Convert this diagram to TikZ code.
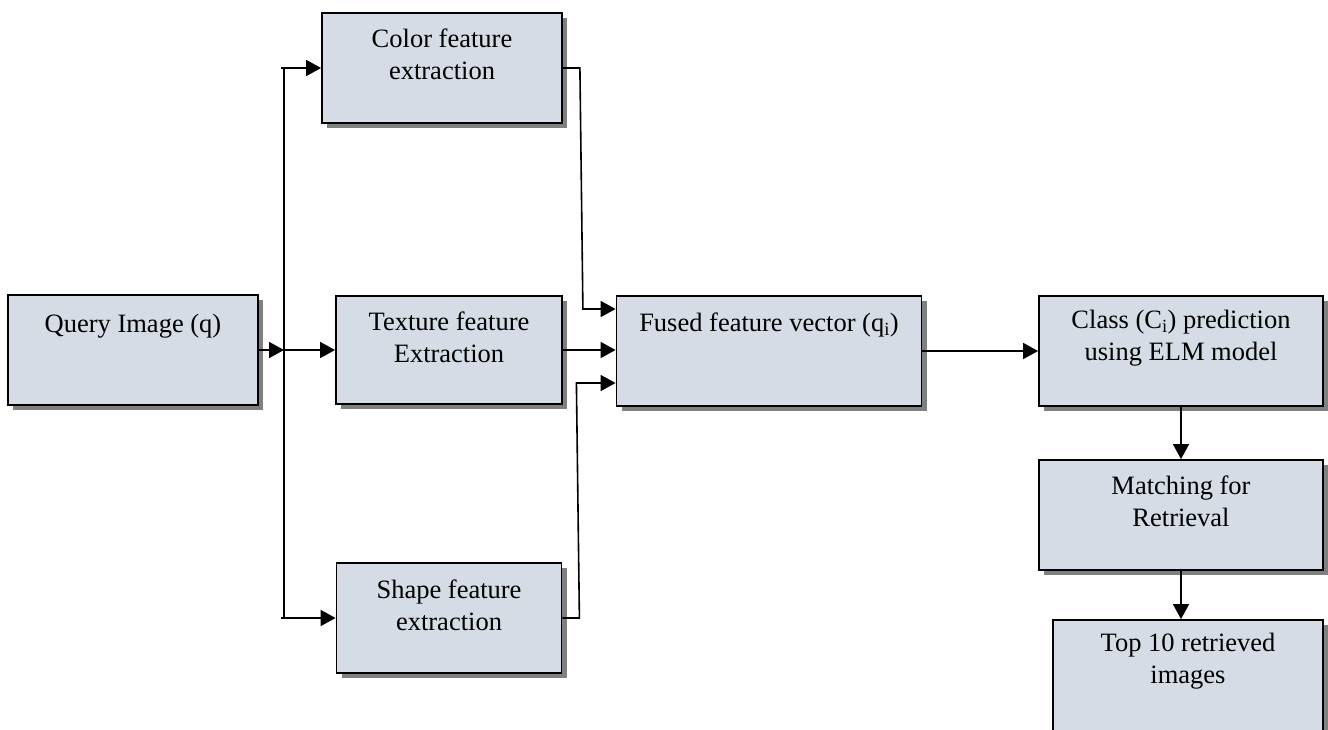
\documentclass[tikz,border=0pt]{standalone}
\usepackage{fontspec}
\setmainfont{Liberation Serif}
\usetikzlibrary{arrows.meta,shadows}
\definecolor{boxfill}{RGB}{214,220,229}
\tikzset{
  block/.style={draw, line width=1.8pt, fill=boxfill, inner sep=0pt,
    drop shadow={shadow xshift=5pt, shadow yshift=-5pt, fill=black!50, opacity=1}},
  lbl/.style={align=center, font=\fontsize{26.5}{32}\selectfont, inner sep=0pt},
  arr/.style={line width=1.6pt, -{Triangle[length=15pt,width=16pt]}},
  wire/.style={line width=1.5pt}
}

\begin{document}
\begin{tikzpicture}[x=1pt,y=-1pt]
  \useasboundingbox (0,0) rectangle (1328,729);
  \clip (0,0) rectangle (1328,729);
  % boxes
  \node[block, minimum width=250pt, minimum height=110pt] (query) at (133,350) {};
  \node[block, minimum width=240pt, minimum height=110pt] (color) at (442,68) {};
  \node[block, minimum width=226pt, minimum height=108pt] (texture) at (449,350) {};
  \node[block, minimum width=225pt, minimum height=110pt] (shape) at (449,618) {};
  \node[block, minimum width=305pt, minimum height=110pt] (fused) at (769,351) {};
  \node[block, minimum width=284pt, minimum height=110pt] (class) at (1181,351) {};
  \node[block, minimum width=284pt, minimum height=110pt] (match) at (1181,515) {};
  \node[block, minimum width=270pt, minimum height=130pt] (top) at (1188,685) {};
  % texts
  \node[lbl] (querytext) at ([yshift=-32pt]query.north) {Query Image (q)};
  \node[lbl] (colortext) at ([yshift=-42pt]color.north) {Color feature\\extraction};
  \node[lbl] (texturetext) at ([yshift=-42pt]texture.north) {Texture feature\\Extraction};
  \node[lbl] (shapetext) at ([yshift=-43pt]shape.north) {Shape feature\\extraction};
  \node[lbl] (fusedtext) at ([yshift=-30pt]fused.north) {Fused feature vector (q\textsubscript{i})};
  \node[lbl] (classtext) at ([yshift=-43pt]class.north) {Class (C\textsubscript{i}) prediction\\using ELM model};
  \node[lbl] (matchtext) at ([yshift=-42pt]match.north) {Matching for\\Retrieval};
  \node[lbl] (toptext) at ([yshift=-42pt]top.north) {Top 10 retrieved\\images};
  % connectors
  \coordinate (bustop) at (284,68);
  \coordinate (busbot) at (284,618);
  \draw[arr] (query.east) -- (query.east -| bustop);
  \draw[wire] (bustop) -- (busbot);
  \draw[arr] ([xshift=-3pt]bustop) -- (color.west);
  \draw[arr] (query.east -| bustop) -- (texture.west);
  \draw[arr] ([xshift=-3pt]busbot) -- (shape.west);
  \draw[arr] (color.east) -- ++(17,0) -- ++(3,241) -- ([yshift=42pt]fused.west);
  \draw[arr] (texture.east) -- (texture.east -| fused.west);
  \draw[arr] (shape.east) -- ++(17,0) -- ++(-3,-235) -- ([yshift=-32pt]fused.west);
  \draw[arr] (fused.east) -- (class.west);
  \draw[arr] (class.south) -- (match.north);
  \draw[arr] (match.south) -- (match.south |- top.north);
\end{tikzpicture}
\end{document}
